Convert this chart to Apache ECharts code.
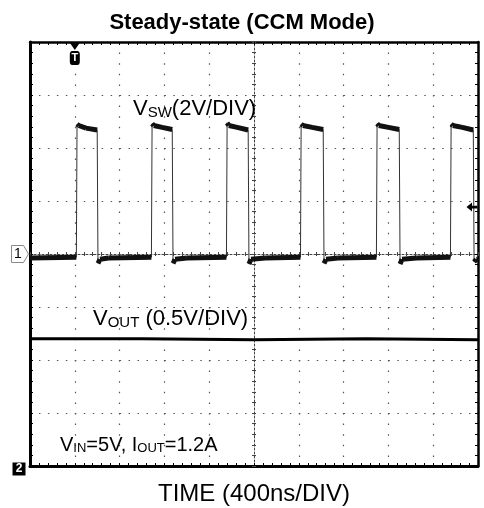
<!DOCTYPE html>
<html>
<head>
<meta charset="utf-8">
<script src="https://cdn.jsdelivr.net/npm/echarts@6/dist/echarts.min.js"></script>
<style>
  html, body { margin: 0; padding: 0; background: #fff; }
  #chart { width: 484px; height: 508px; }
</style>
</head>
<body>
<div id="chart"></div>
<script>
// ---- Data (time in ns relative to screen centre) ----
const chartTitle = 'Steady-state (CCM Mode)';
const timeAxisTitle = 'TIME (400ns/DIV)';
const timeRange = [-2000, 2000];          // 10 div x 400 ns
const timePerDiv = 400;
const divRange = [-4, 4];                 // 8 vertical divisions
const vswRange = [-8, 8];                 // 2 V/div, ch1 ground at centre
const voutRange = [0, 4];                 // 0.5 V/div, ch2 ground at bottom
const triggerTime = -1600;                // trigger marker position
const triggerLevel = 1.77;                // V on ch1

// switching node voltage (V) vs time (ns)
const vswPoints = [
  [-2000, -0.15], [-1586, -0.12], [-1580, 4.90], [-1565, 4.85], [-1500, 4.75], [-1400, 4.68],
  [-1393, -0.35], [-1375, -0.20], [-1300, -0.15],
  [-916, -0.12], [-910, 4.92], [-895, 4.85], [-820, 4.78], [-730, 4.70],
  [-723, -0.35], [-705, -0.20], [-600, -0.15],
  [-246, -0.12], [-240, 4.95], [-225, 4.85], [-150, 4.78], [-52, 4.68],
  [-45, -0.38], [-27, -0.20], [100, -0.15],
  [415, -0.12], [421, 4.90], [436, 4.85], [520, 4.78], [618, 4.70],
  [625, -0.35], [643, -0.20], [750, -0.15],
  [1093, -0.12], [1099, 4.92], [1114, 4.85], [1200, 4.78], [1297, 4.70],
  [1304, -0.38], [1322, -0.20], [1450, -0.15],
  [1754, -0.12], [1760, 4.90], [1775, 4.85], [1860, 4.78], [1958, 4.68],
  [1965, -0.30], [1985, -0.20], [2000, -0.20]
];

// output voltage (V) vs time (ns)
const voutPoints = [
  [-2000, 1.20], [-1000, 1.20], [0, 1.19], [1000, 1.20], [2000, 1.19]
];

// ---- Derived: noisy (thick) flat portions of the switching trace ----
const vswFlat = [];
for (let i = 1; i < vswPoints.length; i++) {
  const a = vswPoints[i - 1], b = vswPoints[i];
  if (b[0] - a[0] > 10) { vswFlat.push(a, b, [null, null]); }
}

const FONT = "'Liberation Sans', Arial, Helvetica, sans-serif";

const chart = echarts.init(document.getElementById('chart'), null, { renderer: 'canvas' });

const hidden = { show: false };
function frameX(pos, w) {
  return {
    type: 'value', min: timeRange[0], max: timeRange[1], interval: timePerDiv, position: pos,
    axisLine: { show: true, onZero: false, lineStyle: { color: '#000', width: w } },
    axisTick: { show: true, inside: true, length: 3, lineStyle: { color: '#000' } },
    minorTick: { show: true, splitNumber: 5, length: 3, lineStyle: { color: '#000' } },
    axisLabel: hidden, splitLine: hidden
  };
}
function frameY(pos, w) {
  return {
    type: 'value', min: divRange[0], max: divRange[1], interval: 1, position: pos,
    axisLine: { show: true, onZero: false, lineStyle: { color: '#000', width: w } },
    axisTick: { show: true, inside: true, length: 3, lineStyle: { color: '#000' } },
    minorTick: { show: true, splitNumber: 5, length: 3, lineStyle: { color: '#000' } },
    axisLabel: hidden, splitLine: hidden
  };
}
function centreX(inside, showLine) {
  return {
    type: 'value', min: timeRange[0], max: timeRange[1], interval: timePerDiv, position: 'bottom',
    axisLine: { show: showLine, onZero: true, onZeroAxisIndex: 0, lineStyle: { color: '#444', width: 1, type: [2, 2] } },
    axisTick: { show: true, inside: inside, length: 2, lineStyle: { color: '#444' } },
    minorTick: { show: true, splitNumber: 5, length: 2, lineStyle: { color: '#444' } },
    axisLabel: hidden, splitLine: hidden
  };
}
function centreY(inside, showLine) {
  return {
    type: 'value', min: divRange[0], max: divRange[1], interval: 1, position: 'left',
    axisLine: { show: showLine, onZero: true, onZeroAxisIndex: 0, lineStyle: { color: '#444', width: 1, type: [2, 2] } },
    axisTick: { show: true, inside: inside, length: 2, lineStyle: { color: '#444' } },
    minorTick: { show: true, splitNumber: 5, length: 2, lineStyle: { color: '#444' } },
    axisLabel: hidden, splitLine: hidden
  };
}

const xb = frameX('bottom', 3);
xb.splitLine = { show: true, lineStyle: { color: '#555', width: 1.2, type: [1.5, 9.1] } };
const yl = frameY('left', 3);
yl.splitLine = { show: true, lineStyle: { color: '#555', width: 1.2, type: [1.5, 7.46] } };

const option = {
  animation: false,
  backgroundColor: '#fff',
  title: {
    text: chartTitle, left: 'center', top: 7,
    textStyle: { fontSize: 22, fontWeight: 'bold', fontFamily: FONT, color: '#000' }
  },
  grid: { left: 30, right: 6, top: 42, bottom: 42, containLabel: false },
  xAxis: [
    xb,
    frameX('top', 2.5),
    centreX(true, true),
    centreX(false, false)
  ],
  yAxis: [
    yl,
    frameY('right', 2.5),
    centreY(true, true),
    centreY(false, false),
    { type: 'value', min: vswRange[0], max: vswRange[1], interval: 2, show: false, splitLine: hidden },
    { type: 'value', min: voutRange[0], max: voutRange[1], interval: 0.5, show: false, splitLine: hidden }
  ],
  series: [
    {
      name: 'VSW', type: 'line', xAxisIndex: 0, yAxisIndex: 4, data: vswPoints,
      showSymbol: false, symbol: 'none', clip: false, z: 5,
      lineStyle: { color: '#333', width: 1 },
      markPoint: {
        silent: true, animation: false, z: 20,
        data: [
          { coord: [triggerTime, vswRange[1]], symbol: 'path://M0,0 L10,0 L5,7 Z', symbolSize: [11, 8], symbolOffset: [0, 4],
            itemStyle: { color: '#000' }, label: { show: false } },
          { coord: [triggerTime, vswRange[1]], symbol: 'roundRect', symbolSize: [10, 14], symbolOffset: [0, 16],
            itemStyle: { color: '#000' },
            label: { show: true, formatter: 'T', color: '#fff', fontSize: 11, fontWeight: 'bold', fontFamily: FONT, position: 'inside' } },
          { coord: [timeRange[0], 0], symbol: 'path://M0,0 L12,0 L17,8 L12,16 L0,16 Z', symbolSize: [17, 17], symbolOffset: [-10, 0],
            itemStyle: { color: '#fff', borderColor: '#888', borderWidth: 1 },
            label: { show: true, formatter: '1', color: '#000', fontSize: 14, fontFamily: FONT, position: 'inside', offset: [-2, 0] } },
          { coord: [timeRange[1], triggerLevel], symbol: 'path://M0,5 L6,0 L6,3.5 L12,3.5 L12,6.5 L6,6.5 L6,10 Z', symbolSize: [11, 9], symbolOffset: [-6, 0],
            itemStyle: { color: '#000' }, label: { show: false } }
        ]
      }
    },
    {
      name: 'VSW noise', type: 'line', xAxisIndex: 0, yAxisIndex: 4, data: vswFlat,
      showSymbol: false, symbol: 'none', clip: false, connectNulls: false, z: 6,
      lineStyle: { color: '#111', width: 5 }
    },
    {
      name: 'VOUT', type: 'line', xAxisIndex: 0, yAxisIndex: 5, data: voutPoints,
      showSymbol: false, symbol: 'none', clip: false, z: 5,
      lineStyle: { color: '#000', width: 3 },
      markPoint: {
        silent: true, animation: false,
        data: [
          { coord: [timeRange[0], 0], symbol: 'rect', symbolSize: [13, 13], symbolOffset: [-11, 3],
            itemStyle: { color: '#000' },
            label: { show: true, formatter: '2', color: '#fff', fontSize: 12, fontWeight: 'bold', fontFamily: FONT, position: 'inside' } }
        ]
      }
    }
  ],
  graphic: [
    { type: 'text', x: 133, y: 120, z: 10,
      style: { text: '{v|V}{s|SW}{v|(2V/DIV)}', verticalAlign: 'bottom', fill: '#000',
        rich: { v: { fontSize: 22, fontFamily: FONT, verticalAlign: 'bottom' }, s: { fontSize: 15, fontFamily: FONT, verticalAlign: 'bottom' } } } },
    { type: 'text', x: 93, y: 330, z: 10,
      style: { text: '{v|V}{s|OUT}{v| (0.5V/DIV)}', verticalAlign: 'bottom', fill: '#000',
        rich: { v: { fontSize: 22, fontFamily: FONT, verticalAlign: 'bottom' }, s: { fontSize: 15, fontFamily: FONT, verticalAlign: 'bottom' } } } },
    { type: 'text', x: 60, y: 455, z: 10,
      style: { text: '{v|V}{s|IN}{v|=5V, I}{s|OUT}{v|=1.2A}', verticalAlign: 'bottom', fill: '#000',
        rich: { v: { fontSize: 20, fontFamily: FONT, verticalAlign: 'bottom' }, s: { fontSize: 13, fontFamily: FONT, verticalAlign: 'bottom' } } } },
    { type: 'text', x: 254, y: 494, z: 10,
      style: { text: timeAxisTitle, align: 'center', verticalAlign: 'middle', fill: '#000', fontSize: 24, fontFamily: FONT } }
  ]
};

chart.setOption(option);
</script>
</body>
</html>
